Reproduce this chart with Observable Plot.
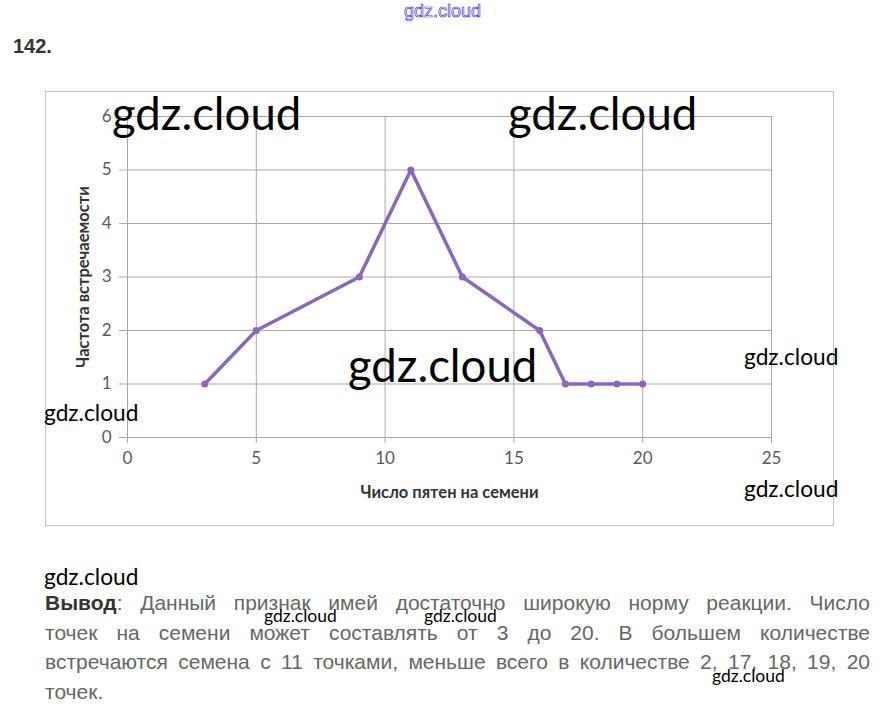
<!DOCTYPE html>
<html>
<head>
<meta charset="utf-8">
<script src="https://cdn.jsdelivr.net/npm/d3@7"></script>
<script src="https://cdn.jsdelivr.net/npm/@observablehq/plot@0.6"></script>
<style>
  html, body { margin: 0; padding: 0; background: #fff; }
  #page { position: relative; width: 882px; height: 719px; overflow: hidden; }
  #num { position: absolute; left: 13px; top: 35px; font: bold 20px "Liberation Sans", Arial, sans-serif; color: #333; }
  #chart { position: absolute; left: 45px; top: 91px; width: 788px; height: 434px; }
  #frame { position: absolute; left: 45px; top: 91px; width: 787px; height: 433px; border: 1px solid #c4c4c4; pointer-events: none; }
  #chart svg { display: block; }
  #text { position: absolute; left: 45px; top: 588px; width: 825px; font: 21px "Liberation Sans", Arial, sans-serif; color: #666; }
  #text div { line-height: 29.7px; text-align: justify; text-align-last: justify; white-space: nowrap; }
  #text div.last { text-align-last: left; }
  #text b { color: #333; }
  #wm { position: absolute; left: 0; top: 0; pointer-events: none; }
</style>
</head>
<body>
<div id="page">
  <div id="num">142.</div>
  <div id="chart"></div>
  <div id="frame"></div>
  <div id="text"></div>
  <svg id="wm" width="882" height="719"></svg>
</div>
<script>
// ---- data ----
const spots = [3, 5, 9, 11, 13, 16, 17, 18, 19, 20];
const frequency = [1, 2, 3, 5, 3, 2, 1, 1, 1, 1];
const xTicks = [0, 5, 10, 15, 20, 25];
const yTicks = [0, 1, 2, 3, 4, 5, 6];
const xLabel = "Число пятен на семени";
const yLabel = "Частота встречаемости";
const conclusionLines = [
  "Данный признак имей достаточно широкую норму реакции. Число",
  "точек на семени может составлять от 3 до 20. В большем количестве",
  "встречаются семена с 11 точками, меньше всего в количестве 2, 17, 18, 19, 20",
  "точек."
];
const conclusionHead = "Вывод";

const data = spots.map((x, i) => ({x, y: frequency[i]}));
const lineColor = "#8a68b8";

const chart = Plot.plot({
  width: 788,
  height: 434,
  marginLeft: 82,
  marginRight: 62,
  marginTop: 25,
  marginBottom: 88,
  style: {fontFamily: "Lato, sans-serif", fontSize: "17px", color: "#555", background: "transparent"},
  x: {domain: [0, 25]},
  y: {domain: [0, 6]},
  marks: [
    Plot.gridX(xTicks, {stroke: "#a8a8a8", strokeOpacity: 1, strokeWidth: 1}),
    Plot.gridY(yTicks, {stroke: "#a8a8a8", strokeOpacity: 1, strokeWidth: 1}),
    Plot.axisX({ticks: xTicks, tickFormat: d3.format("d"), tickSize: 6, tickPadding: 8, stroke: "#a8a8a8", fill: "#5a5a5a",
      label: xLabel, labelAnchor: "center", labelArrow: "none", labelOffset: 60, fontSize: 17}),
    Plot.axisY({ticks: yTicks, tickFormat: d3.format("d"), tickSize: 8, tickPadding: 8, stroke: "#a8a8a8", fill: "#5a5a5a",
      label: yLabel, labelAnchor: "center", labelArrow: "none", labelOffset: 50, fontSize: 17}),
    Plot.line(data, {x: "x", y: "y", stroke: lineColor, strokeWidth: 3.5}),
    Plot.dot(data, {x: "x", y: "y", fill: lineColor, r: 3.5})
  ]
});
document.getElementById("chart").append(chart);
d3.select(chart).selectAll('g[aria-label="x-axis label"] text, g[aria-label="y-axis label"] text')
  .style("font-size", "16.5px").style("font-weight", "bold").style("fill", "#333");

// conclusion text
const t = document.getElementById("text");
conclusionLines.forEach((line, i) => {
  const div = document.createElement("div");
  if (i === conclusionLines.length - 1) div.className = "last";
  if (i === 0) {
    const b = document.createElement("b");
    b.textContent = conclusionHead;
    div.append(b, ": " + line);
  } else div.textContent = line;
  t.append(div);
});

// watermarks
const wm = d3.select("#wm");
const marks = [
  [404, 17, 18, "outline"],
  [112, 130, 45.5], [508, 130, 45.5], [348, 382, 45.5],
  [44, 421, 22.7], [744, 365, 22.7], [744, 497, 22.7], [44, 585, 22.7],
  [264, 622, 17.5], [424, 622, 17.5], [712, 682, 17.5]
];
marks.forEach(([x, y, fs, kind]) => {
  const tx = wm.append("text").attr("x", x).attr("y", y).attr("font-size", fs).text("gdz.cloud");
  if (kind === "outline") {
    tx.attr("font-family", "'Liberation Sans Narrow', sans-serif").attr("fill", "#fff").attr("stroke", "#3a3ad0").attr("stroke-width", 0.7);
  } else {
    tx.attr("font-family", "Lato, sans-serif").attr("fill", "#000");
  }
});
</script>
</body>
</html>
